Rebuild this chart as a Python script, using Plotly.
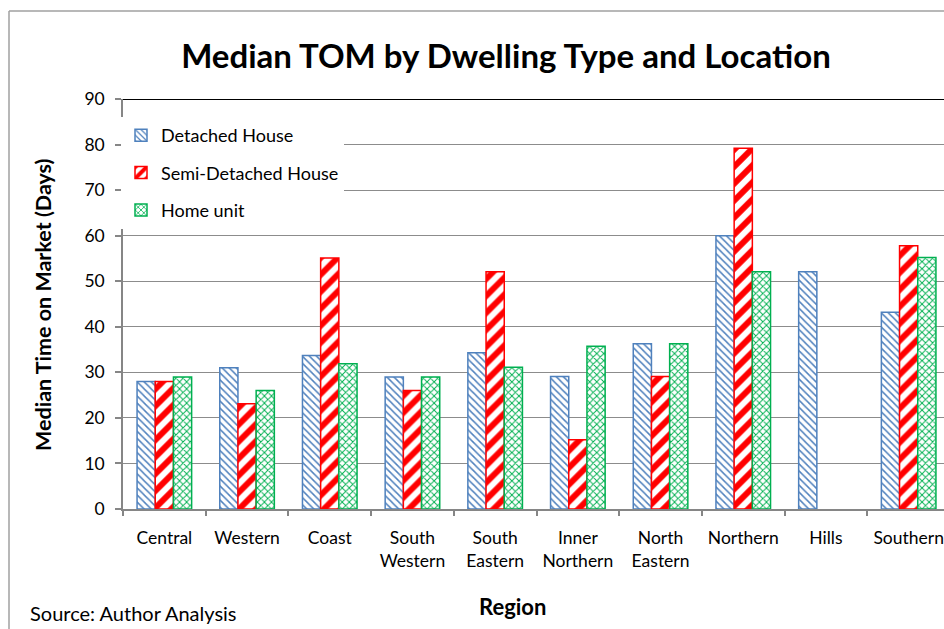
import plotly.graph_objects as go

# Median time on market (days) by region and dwelling type
regions = ["Central", "Western", "Coast", "South<br>Western", "South<br>Eastern",
           "Inner<br>Northern", "North<br>Eastern", "Northern", "Hills", "Southern"]
detached = [28, 31, 33.7, 29, 34.3, 29.1, 36.3, 60, 52.1, 43.2]
semi_detached = [28, 23.1, 55.1, 26, 52.1, 15.2, 29.1, 79.2, None, 57.8]
home_unit = [29, 26, 31.9, 29, 31.1, 35.7, 36.3, 52.1, None, 55.2]

W, H = 944, 629
ML, MR, MT, MB = 123, 0, 99, 120
PW, PH = W - ML - MR, H - MT - MB


def px(x):
    return (x - ML) / PW


def py(y):
    return (H - MB - y) / PH


FONT = "Lato"
BLUE, RED, GREEN = "#4F81BD", "#FF0000", "#00B050"

fig = go.Figure()

fig.add_trace(go.Bar(
    name="Detached House", x=regions, y=detached, legendgroup="a",
    marker=dict(color="white", line=dict(color=BLUE, width=1.5),
                pattern=dict(shape="\\", fgcolor=BLUE, bgcolor="white",
                             size=5, solidity=0.3, fillmode="replace")),
))
fig.add_trace(go.Bar(
    name="Semi-Detached House", x=regions, y=semi_detached, legendgroup="b",
    marker=dict(color="white", line=dict(color=RED, width=1.5),
                pattern=dict(shape="/", fgcolor=RED, bgcolor="white",
                             size=12, solidity=0.5, fillmode="replace")),
))
fig.add_trace(go.Bar(
    name="Home unit", x=regions, y=home_unit, legendgroup="c",
    marker=dict(color="white", line=dict(color=GREEN, width=1.5),
                pattern=dict(shape="x", fgcolor=GREEN, bgcolor="white",
                             size=5, solidity=0.35, fillmode="replace")),
))

fig.update_layout(
    width=W, height=H,
    margin=dict(l=ML, r=MR, t=MT, b=MB, pad=0),
    paper_bgcolor="white", plot_bgcolor="white",
    barmode="group", bargap=0.34, bargroupgap=0,
    font=dict(family=FONT, size=17, color="black"),
    title=dict(text="Median TOM by Dwelling Type and Location",
               font=dict(family=FONT, size=33, color="black", weight="bold"),
               x=506 / W, xanchor="center", xref="container",
               y=1 - 56 / H, yanchor="middle", yref="container"),
    legend=dict(x=px(121), y=py(117), xanchor="left", yanchor="top",
                bgcolor="white", borderwidth=0, tracegroupgap=11,
                font=dict(family=FONT, size=18, color="black")),
    xaxis=dict(range=[-0.5, -0.5 + PW / 82.7], type="category",
               tickson="boundaries", ticks="outside", ticklen=5,
               tickcolor="#868686", tickwidth=1.5, ticklabelstandoff=12,
               showline=True, linecolor="#868686", linewidth=1.5,
               showgrid=False, tickfont=dict(size=17.5, color="black")),
    yaxis=dict(range=[0, 90], dtick=10, ticks="outside", ticklen=6,
               tickcolor="#868686", tickwidth=1.5, ticklabelstandoff=7,
               showline=True, linecolor="#868686", linewidth=1.5,
               showgrid=True, gridcolor="#8C8C8C", gridwidth=1,
               zeroline=False, tickfont=dict(size=17.5, color="black")),
    annotations=[
        dict(text="<b>Median Time on Market (Days)</b>", textangle=-90,
             x=px(43), y=py(305), xref="paper", yref="paper",
             xanchor="center", yanchor="middle",
             showarrow=False, font=dict(size=21.5)),
        dict(text="<b>Region</b>", x=px(512), y=py(606),
             xref="paper", yref="paper", xanchor="center", yanchor="middle",
             showarrow=False, font=dict(size=22)),
        dict(text="Source: Author Analysis", x=px(28), y=py(613),
             xref="paper", yref="paper", xanchor="left", yanchor="middle",
             showarrow=False, font=dict(size=20)),
    ],
    shapes=[
        # chart frame
        dict(type="line", xref="paper", yref="paper",
             x0=px(9), x1=px(9), y0=py(11), y1=py(640),
             line=dict(color="#A0A0A0", width=1.5)),
        dict(type="line", xref="paper", yref="paper",
             x0=px(9), x1=px(960), y0=py(11), y1=py(11),
             line=dict(color="#A0A0A0", width=1.5)),
        # plot area top edge
        dict(type="line", xref="paper", yref="y",
             x0=0, x1=1, y0=90, y1=90,
             line=dict(color="black", width=2)),
    ],
)

fig.write_html("out.html")
